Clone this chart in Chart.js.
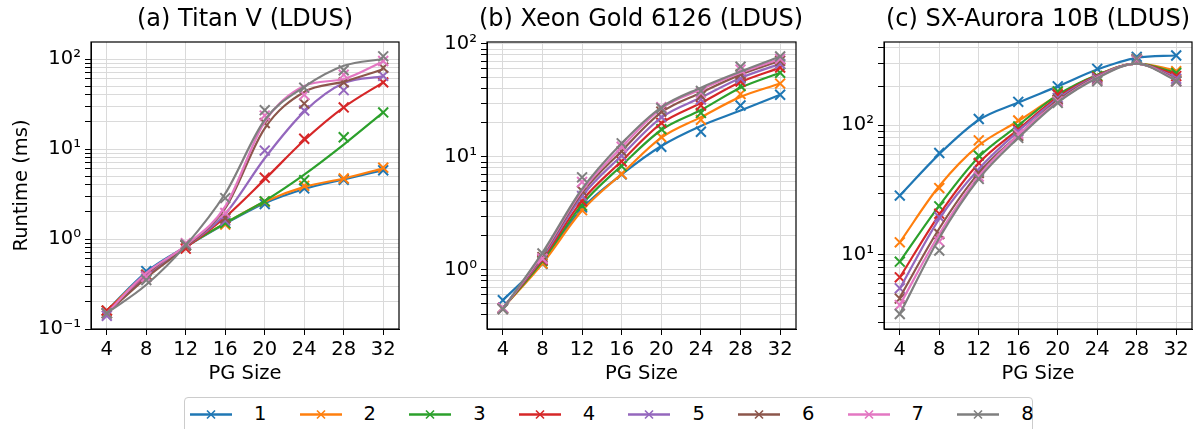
<!DOCTYPE html>
<html>
<head>
<meta charset="utf-8">
<script src="https://cdn.jsdelivr.net/npm/chart.js@4/dist/chart.umd.min.js"></script>
<style>
  html, body { margin: 0; padding: 0; background: #fff; overflow: hidden; }
  #root { position: relative; width: 1201px; height: 429px; overflow: hidden;
          font-family: "DejaVu Sans", sans-serif; color: #000; }
  #root canvas { position: absolute; top: 0; }
  .panel-title { position: absolute; top: 4px; font-size: 24px; line-height: 28px;
                 white-space: nowrap; transform: translateX(-50%); }
  #legend { position: absolute; left: 184px; top: 397px; width: 849px; height: 46px;
            border: 1px solid #cccccc; border-radius: 4px; box-sizing: border-box; background: #fff; }
  .entry { position: absolute; top: 0; height: 34px; }
  .entry span { position: absolute; left: 64px; top: 4px; font-size: 19.5px; line-height: 24px; }
</style>
</head>
<body>
<div id="root">
  <canvas id="titan" width="410" height="390" style="left:0;width:410px;height:390px"></canvas>
  <canvas id="xeon" width="400" height="390" style="left:410px;width:400px;height:390px"></canvas>
  <canvas id="aurora" width="391" height="390" style="left:810px;width:391px;height:390px"></canvas>
  <div class="panel-title" style="left:245px">(a) Titan V (LDUS)</div>
  <div class="panel-title" style="left:641px">(b) Xeon Gold 6126 (LDUS)</div>
  <div class="panel-title" style="left:1038px">(c) SX-Aurora 10B (LDUS)</div>
  <div id="legend"></div>
</div>
<script>
// PG sizes on the x axis
const pgSizes = [4, 8, 12, 16, 20, 24, 28, 32];
const seriesNames = ['1', '2', '3', '4', '5', '6', '7', '8'];
const seriesColors = ['#1f77b4', '#ff7f0e', '#2ca02c', '#d62728',
                      '#9467bd', '#8c564b', '#e377c2', '#7f7f7f'];

// Titan V: measured runtime (ms) per series, and its smoothed trend
const titanRuntime = [
  [0.16, 0.44, 0.85, 1.50, 2.45, 3.65, 4.55, 5.8],
  [0.16, 0.40, 0.85, 1.45, 2.60, 3.90, 4.70, 6.2],
  [0.15, 0.40, 0.85, 1.50, 2.62, 4.5, 13.5, 25.5],
  [0.16, 0.40, 0.78, 1.70, 4.8, 13.0, 29, 55],
  [0.14, 0.39, 0.85, 1.60, 9.6, 26.8, 45, 65],
  [0.15, 0.38, 0.85, 1.70, 19.4, 32, 55, 80],
  [0.15, 0.38, 0.90, 1.95, 23.5, 40, 67, 95],
  [0.15, 0.35, 0.87, 2.85, 27, 48, 75, 107]
];
const titanTrend = [
  [0.16, 0.43, 0.82, 1.48, 2.5, 3.6, 4.6, 5.8],
  [0.16, 0.41, 0.82, 1.50, 2.6, 3.8, 4.7, 6.1],
  [0.15, 0.40, 0.82, 1.50, 2.65, 5.2, 11.2, 25.5],
  [0.16, 0.39, 0.80, 1.75, 4.6, 12.5, 29, 55],
  [0.15, 0.38, 0.82, 1.90, 7.9, 26, 54, 64],
  [0.15, 0.37, 0.82, 2.20, 17, 43, 56, 77],
  [0.15, 0.42, 0.85, 2.30, 20, 50, 60, 94],
  [0.15, 0.31, 0.85, 3.20, 21, 49, 84, 100]
];

// Xeon Gold 6126
const xeonRuntime = [
  [0.54, 1.13, 3.57, 7.0, 12.3, 16.7, 28.5, 35.5],
  [0.46, 1.14, 3.38, 7.06, 15.0, 21.3, 36, 44.6],
  [0.46, 1.20, 3.7, 8.25, 17.6, 24.5, 42.4, 55.6],
  [0.46, 1.22, 4.05, 9.1, 20, 28.5, 46.4, 61.7],
  [0.46, 1.25, 4.5, 10.2, 22.5, 32.2, 49.4, 66.6],
  [0.45, 1.30, 5.0, 11.2, 25.2, 34.8, 53.7, 71],
  [0.46, 1.26, 6.0, 12.3, 27.5, 37, 59.3, 73.8],
  [0.45, 1.40, 6.6, 13.2, 27, 38.4, 62.9, 77.5]
];
const xeonTrend = [
  [0.54, 1.20, 3.5, 7.0, 12.5, 18.8, 25.7, 35.5],
  [0.46, 1.14, 3.35, 7.1, 14.8, 22.5, 34, 44.6],
  [0.46, 1.20, 3.8, 8.4, 17.3, 26, 41, 55.6],
  [0.46, 1.25, 4.1, 9.2, 19.8, 30, 46, 61.7],
  [0.46, 1.30, 4.5, 10.3, 22.3, 33.5, 50, 66.6],
  [0.45, 1.35, 4.8, 11.3, 24.8, 37, 53.5, 71],
  [0.45, 1.38, 5.0, 12.2, 26.8, 39.5, 55.5, 73.8],
  [0.45, 1.42, 5.2, 13.2, 27.5, 41, 57, 77.5]
];

// SX-Aurora 10B
const auroraRuntime = [
  [28.7, 61.2, 112, 152, 200, 273, 338, 346],
  [12.5, 32.8, 76.6, 109, 180, 240, 322, 262],
  [8.87, 23.7, 58.4, 98, 183, 240, 322, 254],
  [6.71, 20.8, 51.2, 92.6, 173, 235, 320, 240],
  [5.52, 19.6, 44.1, 90, 163, 230, 320, 229],
  [4.6, 14.5, 42.8, 83, 158, 225, 322, 219],
  [4.1, 12.7, 40.3, 86, 153, 222, 322, 219],
  [3.5, 10.8, 38.6, 80, 149, 219, 328, 219]
];
const auroraTrend = [
  [28.7, 60, 110, 150, 200, 270, 332, 346],
  [12.5, 34, 70, 108, 170, 245, 300, 265],
  [8.87, 24, 57, 100, 172, 245, 300, 255],
  [6.7, 20.5, 51, 93, 165, 242, 300, 245],
  [5.5, 19, 46, 90, 160, 240, 300, 235],
  [4.7, 16, 43, 84, 155, 237, 300, 228],
  [4.1, 14.5, 40.5, 84, 152, 235, 300, 225],
  [3.5, 13.5, 38.6, 80, 150, 232, 300, 222]
];

const FONT = 'DejaVu Sans';
const TICK_SIZE = 19.5;
Chart.defaults.font.family = FONT;
Chart.defaults.color = '#000';

const SUP = { '-': '\u207B', '0': '\u2070', '1': '\u00B9', '2': '\u00B2', '3': '\u00B3',
              '4': '\u2074', '5': '\u2075', '6': '\u2076', '7': '\u2077', '8': '\u2078', '9': '\u2079' };
function powLabel(v) {
  const e = Math.round(Math.log10(v));
  if (Math.abs(v - Math.pow(10, e)) / v > 1e-6) return '';
  return '10' + String(e).split('').map(c => SUP[c]).join('');
}
function logTicks(min, max) {
  const out = [];
  for (let e = Math.floor(Math.log10(min)) - 1; e <= Math.ceil(Math.log10(max)); e++) {
    for (let m = 1; m <= 9; m++) {
      const v = m * Math.pow(10, e);
      if (v >= min * 0.9999 && v <= max * 1.0001) out.push({ value: v, major: m === 1 });
    }
  }
  return out;
}

// black frame round the plot area
const framePlugin = {
  id: 'frame',
  afterDatasetsDraw(chart) {
    const { ctx, chartArea: a } = chart;
    ctx.save();
    ctx.strokeStyle = '#000';
    ctx.lineWidth = 1.2;
    ctx.strokeRect(a.left, a.top, a.right - a.left, a.bottom - a.top);
    ctx.restore();
  }
};

function buildPanel(id, runtime, trend, opt) {
  const datasets = [];
  for (let s = 0; s < seriesNames.length; s++) {
    datasets.push({
      label: seriesNames[s] + ' trend',
      data: pgSizes.map((x, i) => ({ x: x, y: trend[s][i] })),
      borderColor: seriesColors[s],
      borderWidth: 2.2,
      pointRadius: 0,
      fill: false,
      cubicInterpolationMode: 'monotone',
      order: (seriesNames.length - s) * 2 + 1
    });
    datasets.push({
      label: seriesNames[s],
      data: pgSizes.map((x, i) => ({ x: x, y: runtime[s][i] })),
      showLine: false,
      pointStyle: 'crossRot',
      pointRadius: 7,
      pointBorderWidth: 2,
      pointBorderColor: seriesColors[s],
      pointBackgroundColor: seriesColors[s],
      borderColor: seriesColors[s],
      order: (seriesNames.length - s) * 2
    });
  }
  const gridColor = '#dadada';
  return new Chart(document.getElementById(id), {
    type: 'line',
    data: { datasets: datasets },
    plugins: [framePlugin],
    options: {
      responsive: false,
      animation: false,
      events: [],
      layout: { padding: { top: 42, right: opt.padRight, left: 0, bottom: 0 } },
      plugins: { legend: { display: false }, tooltip: { enabled: false }, title: { display: false } },
      scales: {
        x: {
          type: 'linear',
          min: 2.4, max: 33.6,
          afterBuildTicks: s => { s.ticks = pgSizes.map(v => ({ value: v })); },
          afterFit: s => { s.height = 61; },
          grid: { color: gridColor, lineWidth: 1, tickLength: 6, tickColor: '#000', tickWidth: 1 },
          border: { display: true, color: '#000', width: 1 },
          ticks: { font: { size: TICK_SIZE }, color: '#000', padding: 3, maxRotation: 0, autoSkip: false },
          title: { display: true, text: 'PG Size', font: { size: TICK_SIZE }, color: '#000',
                   padding: { top: 0, bottom: 4 } }
        },
        y: {
          type: 'logarithmic',
          min: opt.yMin, max: opt.yMax,
          afterBuildTicks: s => { s.ticks = logTicks(opt.yMin, opt.yMax); },
          afterFit: s => { s.width = opt.yWidth; },
          grid: { color: gridColor, lineWidth: 1, tickLength: 6, tickColor: '#000', tickWidth: 1 },
          border: { display: true, color: '#000', width: 1 },
          ticks: { font: { size: TICK_SIZE }, color: '#000', padding: 4, autoSkip: false,
                   callback: v => powLabel(v) },
          title: { display: !!opt.yTitle, text: opt.yTitle || '', font: { size: TICK_SIZE }, color: '#000',
                   padding: { top: 10, bottom: 0 } }
        }
      }
    }
  });
}

buildPanel('titan', titanRuntime, titanTrend,
  { yMin: 0.1, yMax: 154.5, yWidth: 91, padRight: 11, yTitle: 'Runtime (ms)' });
buildPanel('xeon', xeonRuntime, xeonTrend,
  { yMin: 0.327, yMax: 104, yWidth: 77, padRight: 14 });
buildPanel('aurora', auroraRuntime, auroraTrend,
  { yMin: 2.68, yMax: 440, yWidth: 74, padRight: 9 });

// legend row below the panels
const legend = document.getElementById('legend');
seriesNames.forEach((name, i) => {
  const d = document.createElement('div');
  d.className = 'entry';
  d.style.left = (5 + i * 109.6) + 'px';
  const c = seriesColors[i];
  d.innerHTML =
    '<svg width="44" height="34" style="position:absolute;left:0;top:0">' +
    '<line x1="0" y1="16.5" x2="42" y2="16.5" stroke="' + c + '" stroke-width="2.4"/>' +
    '<line x1="17" y1="12.5" x2="25" y2="20.5" stroke="' + c + '" stroke-width="1.6"/>' +
    '<line x1="25" y1="12.5" x2="17" y2="20.5" stroke="' + c + '" stroke-width="1.6"/>' +
    '</svg><span>' + name + '</span>';
  legend.appendChild(d);
});
</script>
</body>
</html>
